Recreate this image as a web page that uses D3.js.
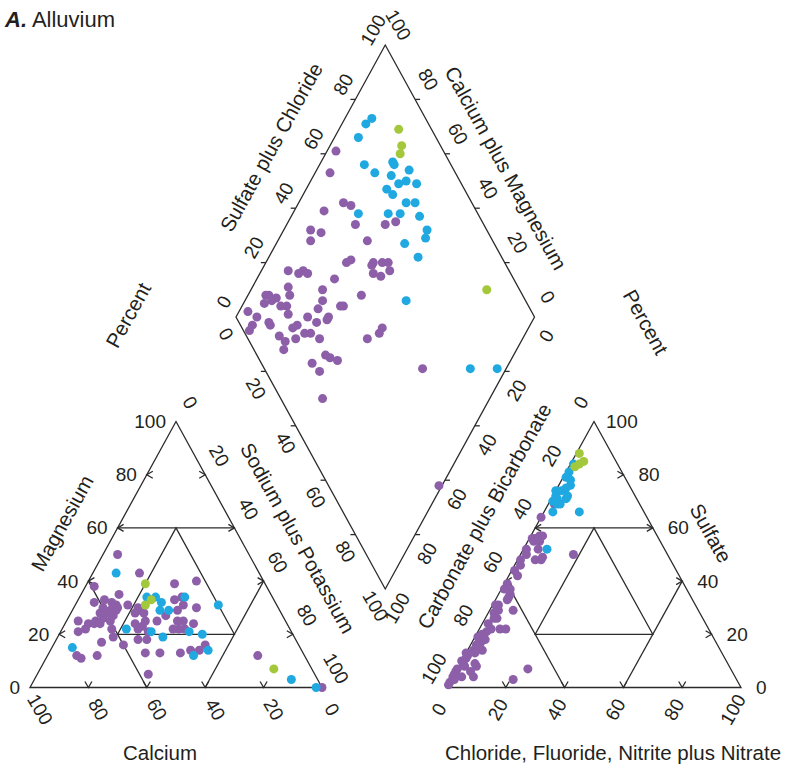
<!DOCTYPE html>
<html lang="en">
<head>
<meta charset="UTF-8">
<title>Piper diagram - Alluvium</title>
<script src="https://d3js.org/d3.v7.min.js"></script>
<style>
  body { margin: 0; background: #fff; }
  text { font-family: "Liberation Sans Narrow", "Liberation Sans", Arial, sans-serif; fill: #231f20; }
  .title { font-family: "Liberation Sans", Arial, sans-serif; font-size: 20.5px; }
  .tick { font-size: 19px; }
</style>
</head>
<body>
<svg id="chart"></svg>
<script>
// percent ticks on every axis
var tickValues = [0, 20, 40, 60, 80, 100];

// cation triangle, [Calcium, Magnesium] in percent (Na+K = rest)
var cationPurple = [
  [41, 43], [31, 39], [23, 40], [59, 38], [52, 35], [62, 32], [58, 33], [56, 32], [55, 31], [60, 30],
  [58, 29], [56, 29], [62, 28], [60, 28], [58, 27], [51, 31], [48, 30], [48, 29], [50, 28], [47, 28],
  [40, 27], [34, 33], [31, 34], [32, 31], [35, 29], [28, 30], [37, 25], [35, 25], [32, 24], [36, 22],
  [38, 22], [40, 22], [44, 25], [48, 25], [50, 23], [52, 24], [52, 22], [49, 21], [71, 25], [73, 21],
  [70, 22], [68, 24], [66, 24], [65, 25], [62, 26], [60, 25], [61, 22], [78, 12], [77, 11], [71, 12],
  [67, 17], [62, 19], [60, 16], [54, 18], [51, 18], [54, 13], [49, 13], [42, 13], [38, 14], [35, 14],
  [32, 16], [57, 5], [55, 30], [64, 24], [16, 12], [0, 0], [45, 50]
];
var cationBlue = [
  [49, 43], [20, 31], [43, 34], [40, 34], [39, 32], [41, 29], [38, 29], [30, 34], [35, 21], [48, 21],
  [56, 22], [78, 15], [45, 19], [38, 12], [32, 14], [31, 20], [9, 3], [2, 0]
];
var cationGreen = [[41, 39], [42, 33], [45, 31], [13, 7]];

// anion triangle, [Chloride+F+NO2+NO3, Sulfate] in percent (CO3+HCO3 = rest)
var anionPurple = [
  [2, 69], [0, 64], [1, 56], [2, 56], [3, 57], [4, 57], [2, 55], [4, 55], [1, 52], [5, 52],
  [6, 48], [1, 48], [2, 50], [18, 50], [8, 48], [2, 46], [1, 44], [3, 42], [1, 39], [3, 37],
  [1, 37], [4, 34], [8, 29], [2, 31], [4, 35], [4, 33], [1, 31], [3, 29], [2, 28], [4, 26],
  [3, 26], [2, 24], [4, 22], [3, 21], [2, 20], [4, 18], [3, 17], [2, 16], [2, 14], [3, 13],
  [1, 12], [1, 11], [0, 10], [1, 9], [0, 7], [0, 6], [0, 5], [0, 4], [0, 2], [7, 22],
  [9, 22], [5, 14], [5, 9], [6, 8], [5, 6], [7, 4], [3, 4], [24, 7], [21, 3], [1, 19],
  [3, 15], [0, 13], [2, 8], [1, 3], [0, 1], [8, 49]
];
var anionBlue = [
  [1, 84], [1, 81], [1, 79], [3, 78], [4, 76], [3, 75], [2, 74], [0, 74], [1, 72], [2, 71],
  [1, 70], [3, 69], [4, 69], [5, 71], [5, 72], [3, 66], [12, 66], [8, 52]
];
var anionGreen = [[1, 88], [4, 85], [3, 84], [2, 83]];

// diamond, [Sodium plus Potassium, Sulfate plus Chloride] in percent
var diamondPurple = [
  [3, 64], [5, 58], [15, 57], [18, 59], [10, 49], [23, 57], [36, 71], [33, 67], [9, 41], [13, 44],
  [11, 39], [30, 58], [27, 47], [28, 49], [36, 56], [39, 59], [41, 61], [36, 55], [38, 54], [41, 56],
  [43, 60], [9, 26], [13, 29], [14, 31], [16, 32], [26, 40], [12, 23], [14, 22], [6, 14], [7, 15],
  [10, 17], [24, 34], [38, 46], [9, 15], [13, 17], [15, 19], [17, 18], [3, 5], [7, 12], [26, 32],
  [26, 29], [34, 38], [33, 37], [31, 31], [24, 24], [7, 7], [7, 4], [7, 2], [12, 10], [13, 10],
  [21, 17], [22, 19], [28, 26], [31, 30], [26, 20], [28, 22], [24, 16], [18, 11], [21, 12], [22, 10],
  [32, 24], [48, 40], [51, 47], [51, 45], [37, 23], [39, 24], [42, 26], [34, 17], [38, 18], [72, 53],
  [44, 14], [99, 37]
];
var diamondBlue = [
  [8, 79], [9, 82], [8, 74], [24, 81], [25, 81], [15, 71], [20, 73], [31, 85], [26, 78], [27, 74],
  [30, 79], [32, 82], [36, 85], [30, 75], [36, 78], [39, 81], [22, 60], [32, 70], [36, 74], [43, 80],
  [48, 80], [49, 78], [43, 70], [50, 72], [54, 60], [88, 69], [97, 78]
];
var diamondGreen = [[20, 89], [24, 87], [25, 85], [79, 89]];

var groupColors = { purple: "#8d5fa9", blue: "#20a8e0", green: "#a3c83c" };

(function() {
    var width = 786;
    var height = 770;

    var svg = d3.select("#chart")
        .attr("width", width)
        .attr("height", height);

    // scales for the two triangles and the diamond
    var xCat = d3.scaleLinear().domain([0, 100]).range([30, 322]);
    var xAn = d3.scaleLinear().domain([0, 100]).range([447, 741]);
    var yTri = d3.scaleLinear().domain([0, 100]).range([687.5, 421.5]);
    var xDia = d3.scaleLinear().domain([0, 200]).range([236, 534.5]);
    var yDia = d3.scaleLinear().domain([-100, 100]).range([45, 589]);

    function catPt(ca, mg) { return [xCat(100 - ca - mg / 2), yTri(mg)]; }
    function anPt(cl, so4) { return [xAn(cl + so4 / 2), yTri(so4)]; }
    function diaPt(nak, sc) { return [xDia(nak + sc), yDia(nak - sc)]; }

    var line = d3.line();
    var frame = svg.append("g")
        .attr("fill", "none")
        .attr("stroke", "#2b2b2b")
        .attr("stroke-width", 1.3);

    // outlines
    frame.append("path").attr("d", line([catPt(100, 0), catPt(0, 100), catPt(0, 0)]) + "Z");
    frame.append("path").attr("d", line([anPt(0, 0), anPt(0, 100), anPt(100, 0)]) + "Z");
    frame.append("path").attr("d", line([diaPt(0, 0), diaPt(0, 100), diaPt(100, 100), diaPt(100, 0)]) + "Z");

    // facies lines inside the triangles
    var catLines = [[[40, 60], [0, 60]], [[60, 40], [60, 0]], [[40, 0], [0, 40]]];
    var anLines = [[[0, 60], [40, 60]], [[0, 40], [40, 0]], [[60, 0], [60, 40]]];
    catLines.forEach(function(s) {
        frame.append("path").attr("d", line(s.map(function(p) { return catPt(p[0], p[1]); })));
    });
    anLines.forEach(function(s) {
        frame.append("path").attr("d", line(s.map(function(p) { return anPt(p[0], p[1]); })));
    });
    frame.append("path").attr("d", line([catPt(60, 20), catPt(20, 60), catPt(20, 20)]) + "Z");
    frame.append("path").attr("d", line([anPt(20, 20), anPt(20, 60), anPt(60, 20)]) + "Z");

    // small arrow ticks
    var inner = tickValues.slice(1, 5);
    function chevron(p, dir) {
        var x = p[0], y = p[1], a = 6, b = 3.5;
        if (dir === "left") return line([[x + a, y - b], [x, y], [x + a, y + b]]);
        if (dir === "right") return line([[x - a, y - b], [x, y], [x - a, y + b]]);
        return line([[x - b, y - a], [x, y], [x + b, y - a]]);
    }
    inner.forEach(function(v) {
        frame.append("path").attr("d", chevron(catPt(100 - v, v), "left"));
        frame.append("path").attr("d", chevron(catPt(0, v), "right"));
        frame.append("path").attr("d", chevron(catPt(v, 0), "down"));
        frame.append("path").attr("d", chevron(anPt(0, v), "left"));
        frame.append("path").attr("d", chevron(anPt(100 - v, v), "right"));
        frame.append("path").attr("d", chevron(anPt(v, 0), "down"));
        // diamond stubs
        var p;
        p = diaPt(0, v); frame.append("path").attr("d", line([p, [p[0] - 5, p[1]]]));
        p = diaPt(v, 0); frame.append("path").attr("d", line([p, [p[0] - 5, p[1]]]));
        p = diaPt(v, 100); frame.append("path").attr("d", line([p, [p[0] + 5, p[1]]]));
        p = diaPt(100, v); frame.append("path").attr("d", line([p, [p[0] + 5, p[1]]]));
    });

    // tick labels
    var labels = svg.append("g").attr("class", "tick");
    function addLabel(p, dx, dy, txt, rot, anchor) {
        labels.append("text")
            .attr("transform", "translate(" + (p[0] + dx) + "," + (p[1] + dy) + ")rotate(" + rot + ")")
            .attr("text-anchor", anchor || "middle")
            .attr("dominant-baseline", "central")
            .text(txt);
    }
    tickValues.forEach(function(v) {
        addLabel(catPt(100 - v, v), -10, 0, v, 0, "end");                // Magnesium
        addLabel(catPt(v, 0), 10, 22, v, 60);                            // Calcium
        addLabel(catPt(0, 100 - v), 14, -19, v, 60);                     // Sodium plus Potassium
        addLabel(anPt(100 - v, v), v === 100 ? 12 : 15, 0, v, 0, "start"); // Sulfate
        addLabel(anPt(v, 0), -8, 22, v, -60);                            // Chloride ...
        addLabel(anPt(0, 100 - v), -13, -19, v, -60);                    // Carbonate plus Bicarbonate
        addLabel(diaPt(0, v), -12, -15, v, -60);                         // Sulfate plus Chloride
        addLabel(diaPt(100 - v, 100), 13, -20, v, 60);                   // Calcium plus Magnesium
        addLabel(diaPt(v, 0), -10, 17, v, 60);                           // Sodium plus Potassium
        addLabel(diaPt(100, 100 - v), 12, 19, v, -60);                   // Carbonate plus Bicarbonate
    });

    // axis titles
    var titles = [
        ["Magnesium", 62, 523, -61],
        ["Calcium", 160, 752, 0],
        ["Sodium plus Potassium", 298, 538, 61],
        ["Sulfate", 711, 533, 61],
        ["Carbonate plus Bicarbonate", 484, 516, -61],
        ["Chloride, Fluoride, Nitrite plus Nitrate", 613, 752, 0],
        ["Sulfate plus Chloride", 271, 147, -61],
        ["Calcium plus Magnesium", 506, 168, 61],
        ["Percent", 128, 315, -61],
        ["Percent", 646, 322, 61]
    ];
    svg.append("g").selectAll("text")
        .data(titles)
        .enter()
        .append("text")
        .attr("class", "title")
        .attr("transform", function(d) { return "translate(" + d[1] + "," + d[2] + ")rotate(" + d[3] + ")"; })
        .attr("text-anchor", "middle")
        .attr("dominant-baseline", "central")
        .text(function(d) { return d[0]; });

    // panel title
    var head = svg.append("text")
        .attr("x", 5)
        .attr("y", 27)
        .style("font-family", "'Liberation Sans', Arial, sans-serif")
        .style("font-size", "22px");
    head.append("tspan").style("font-weight", "bold").style("font-style", "italic").text("A.");
    head.append("tspan").text(" Alluvium");

    // points
    var dots = svg.append("g");
    function drawPoints(data, toXY, color) {
        dots.append("g")
            .selectAll("circle")
            .data(data)
            .enter()
            .append("circle")
            .attr("cx", function(d) { return toXY(d[0], d[1])[0]; })
            .attr("cy", function(d) { return toXY(d[0], d[1])[1]; })
            .attr("r", 4.5)
            .attr("fill", color);
    }
    drawPoints(cationPurple, catPt, groupColors.purple);
    drawPoints(cationBlue, catPt, groupColors.blue);
    drawPoints(cationGreen, catPt, groupColors.green);
    drawPoints(anionPurple, anPt, groupColors.purple);
    drawPoints(anionBlue, anPt, groupColors.blue);
    drawPoints(anionGreen, anPt, groupColors.green);
    drawPoints(diamondPurple, diaPt, groupColors.purple);
    drawPoints(diamondBlue, diaPt, groupColors.blue);
    drawPoints(diamondGreen, diaPt, groupColors.green);
})();
</script>
</body>
</html>
